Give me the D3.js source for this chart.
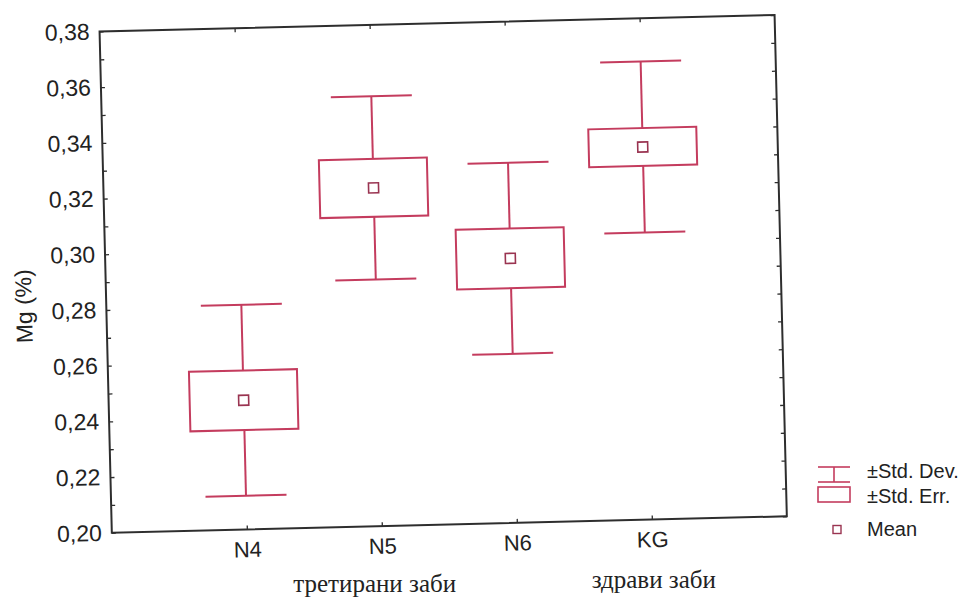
<!DOCTYPE html>
<html>
<head>
<meta charset="utf-8">
<script src="https://cdn.jsdelivr.net/npm/d3@7/dist/d3.min.js"></script>
<style>
  html, body { margin: 0; padding: 0; background: #fff; }
  svg { display: block; }
</style>
</head>
<body>
<script>
// ---- data ----
const categories = ["N4", "N5", "N6", "KG"];
const means      = [0.2464, 0.3215, 0.2950, 0.3338];
const stdErr     = [0.0107, 0.0104, 0.0107, 0.0068];
const stdDev     = [0.0343, 0.0329, 0.0343, 0.0307];
const yTickValues = [0.20, 0.22, 0.24, 0.26, 0.28, 0.30, 0.32, 0.34, 0.36, 0.38];
const yMinorTicks = [0.20,0.21,0.22,0.23,0.24,0.25,0.26,0.27,0.28,0.29,0.30,0.31,0.32,0.33,0.34,0.35,0.36,0.37,0.38];
const yTitle = "Mg (%)";
const groupLabels = ["третирани заби", "здрави заби"];
const groupCats = ["N5", "KG"];
const legendLabels = ["±Std. Dev.", "±Std. Err.", "Mean"];

// ---- layout ----
const W = 963, H = 604;
const x0 = 105.6, x1 = 780.8, yTop = 23.2, yBot = 524.6;
const cx = 443.2, cy = 273.9, angle = -1.4;
const red = "#c43c5e", dark = "#9a3451", axisCol = "#2e2e2e";

const svg = d3.select("body").append("svg").attr("width", W).attr("height", H);
svg.append("rect").attr("width", W).attr("height", H).attr("fill", "#fff");

const g = svg.append("g").attr("transform", `rotate(${angle},${cx},${cy})`);

const x = d3.scalePoint().domain(categories).range([x0, x1]).padding(1);
const y = d3.scaleLinear().domain([0.20, 0.38]).range([yBot, yTop]);
const fmt = v => d3.format(".2f")(v).replace(".", ",");

// frame
g.append("rect").attr("x", x0).attr("y", yTop).attr("width", x1 - x0).attr("height", yBot - yTop)
  .attr("fill", "none").attr("stroke", axisCol).attr("stroke-width", 2);

// ticks (inside) left & right
const leftAxis = d3.axisLeft(y).tickValues(yMinorTicks).tickSize(-4).tickFormat("");
g.append("g").attr("transform", `translate(${x0},0)`).call(leftAxis)
  .call(s => s.select(".domain").remove())
  .selectAll("line").attr("stroke", axisCol).attr("stroke-width", 1.3);
const rightAxis = d3.axisRight(y).tickValues(yMinorTicks).tickSize(-4).tickFormat("");
g.append("g").attr("transform", `translate(${x1},0)`).call(rightAxis)
  .call(s => s.select(".domain").remove())
  .selectAll("line").attr("stroke", axisCol).attr("stroke-width", 1.3);

// y tick labels
const yLab = d3.axisLeft(y).tickValues(yTickValues).tickSize(0).tickPadding(10).tickFormat(fmt);
g.append("g").attr("transform", `translate(${x0},0)`).call(yLab)
  .call(s => s.select(".domain").remove())
  .selectAll("text").attr("font-family", "'Liberation Sans', Arial, sans-serif")
  .attr("font-size", 23).attr("fill", "#222");

// x axis
const bottomAxis = d3.axisBottom(x).tickSize(-4).tickPadding(12);
g.append("g").attr("transform", `translate(0,${yBot})`).call(bottomAxis)
  .call(s => s.select(".domain").remove())
  .call(s => s.selectAll("line").attr("stroke", axisCol).attr("stroke-width", 1.3))
  .selectAll("text").attr("font-family", "'Liberation Sans', Arial, sans-serif")
  .attr("font-size", 22).attr("fill", "#222");
const topAxis = d3.axisTop(x).tickSize(-4).tickFormat("");
g.append("g").attr("transform", `translate(0,${yTop})`).call(topAxis)
  .call(s => s.select(".domain").remove())
  .selectAll("line").attr("stroke", axisCol).attr("stroke-width", 1.3);

// y title
g.append("text").attr("transform", `translate(25,296) rotate(-90)`)
  .attr("text-anchor", "middle").attr("dominant-baseline", "middle")
  .attr("font-family", "'Liberation Sans', Arial, sans-serif").attr("font-size", 23)
  .attr("fill", "#222").text(yTitle);

// boxes
const step = x.step();
const boxW = step * 0.8, capW = step * 0.6, mk = 10;
const data = categories.map((c, i) => ({ c, m: means[i], se: stdErr[i], sd: stdDev[i] }));
const grp = g.append("g").selectAll("g").data(data).join("g");
grp.append("line").attr("x1", d => x(d.c)).attr("x2", d => x(d.c))
  .attr("y1", d => y(d.m + d.sd)).attr("y2", d => y(d.m + d.se))
  .attr("stroke", red).attr("stroke-width", 2);
grp.append("line").attr("x1", d => x(d.c)).attr("x2", d => x(d.c))
  .attr("y1", d => y(d.m - d.se)).attr("y2", d => y(d.m - d.sd))
  .attr("stroke", red).attr("stroke-width", 2);
grp.append("line").attr("x1", d => x(d.c) - capW / 2).attr("x2", d => x(d.c) + capW / 2)
  .attr("y1", d => y(d.m + d.sd)).attr("y2", d => y(d.m + d.sd))
  .attr("stroke", red).attr("stroke-width", 2);
grp.append("line").attr("x1", d => x(d.c) - capW / 2).attr("x2", d => x(d.c) + capW / 2)
  .attr("y1", d => y(d.m - d.sd)).attr("y2", d => y(d.m - d.sd))
  .attr("stroke", red).attr("stroke-width", 2);
grp.append("rect").attr("x", d => x(d.c) - boxW / 2).attr("width", boxW)
  .attr("y", d => y(d.m + d.se)).attr("height", d => y(d.m - d.se) - y(d.m + d.se))
  .attr("fill", "none").attr("stroke", red).attr("stroke-width", 2);
grp.append("rect").attr("x", d => x(d.c) - mk / 2).attr("width", mk)
  .attr("y", d => y(d.m) - mk / 2).attr("height", mk)
  .attr("fill", "none").attr("stroke", dark).attr("stroke-width", 1.6);

// group labels (unrotated)
const gOff = [-1, 8];
svg.append("g").selectAll("text").data(groupLabels).join("text")
  .attr("x", (d, i) => x(groupCats[i]) + gOff[i]).attr("y", (d, i) => i === 0 ? 592 : 588)
  .attr("text-anchor", "middle").attr("font-family", "'Liberation Serif', 'Times New Roman', serif")
  .attr("font-size", 25).attr("fill", "#222").text(d => d);

// legend (unrotated)
const lg = svg.append("g");
const lx0 = 818, lx1 = 850;
// SD icon
lg.append("line").attr("x1", lx0).attr("x2", lx1).attr("y1", 467).attr("y2", 467).attr("stroke", red).attr("stroke-width", 1.6);
lg.append("line").attr("x1", lx0).attr("x2", lx1).attr("y1", 482).attr("y2", 482).attr("stroke", red).attr("stroke-width", 1.6);
lg.append("line").attr("x1", (lx0 + lx1) / 2).attr("x2", (lx0 + lx1) / 2).attr("y1", 467).attr("y2", 482).attr("stroke", red).attr("stroke-width", 1.6);
// SE icon
lg.append("rect").attr("x", lx0).attr("y", 487).attr("width", lx1 - lx0).attr("height", 15)
  .attr("fill", "none").attr("stroke", red).attr("stroke-width", 1.6);
// Mean icon
lg.append("rect").attr("x", 833).attr("y", 525.5).attr("width", 8).attr("height", 8)
  .attr("fill", "none").attr("stroke", dark).attr("stroke-width", 1.4);
const lys = [478, 503, 536];
lg.selectAll("text").data(legendLabels).join("text")
  .attr("x", 867).attr("y", (d, i) => lys[i])
  .attr("font-family", "'Liberation Sans', Arial, sans-serif").attr("font-size", 20)
  .attr("fill", "#222").text(d => d);
</script>
</body>
</html>
